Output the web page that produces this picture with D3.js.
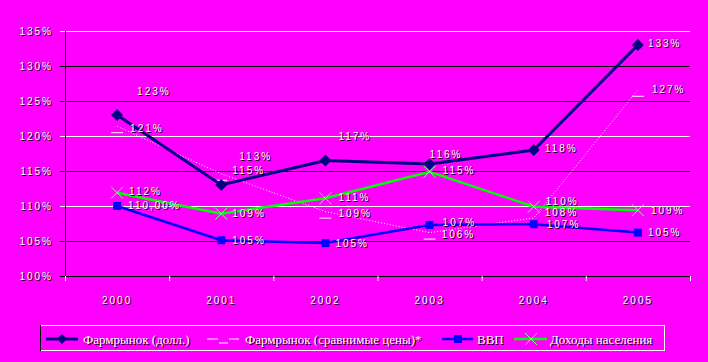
<!DOCTYPE html>
<html><head><meta charset="utf-8">
<script src="https://cdn.jsdelivr.net/npm/d3@7"></script>
<style>
html,body{margin:0;padding:0;background:#ff00ff;}
svg{display:block;}
.lbl{font-family:"Liberation Sans Narrow","Arial Narrow","Liberation Sans",sans-serif;font-size:10px;letter-spacing:2px;}
.leg{font-family:"Liberation Serif","Times New Roman",serif;font-size:13px;}
</style></head>
<body>
<script>
// ---- data ----
const years = ["2000","2001","2002","2003","2004","2005"];
const yTicks = [100,105,110,115,120,125,130,135];
const pharmUsd = [123, 113, 116.5, 116, 118, 133];
const pharmUsdLabels = ["123%","113%","117%","116%","118%","133%"];
const pharmConst = [121.4, 114.6, 109.2, 106.2, 108.3, 126.6];
const pharmConstLabels = ["121%","115%","109%","106%","108%","127%"];
const gdp = [110, 105.1, 104.7, 107.3, 107.4, 106.2];
const gdpLabels = ["110,00%","105%","105%","107%","107%","105%"];
const income = [111.9, 108.9, 111.1, 114.9, 109.9, 109.4];
const incomeLabels = ["112%","109%","111%","115%","110%","109%"];
const seriesNames = ["Фармрынок (долл.)","Фармрынок (сравнимые цены)*","ВВП","Доходы населения"];

// ---- drawing ----
const W = 708, H = 362;
const svg = d3.select("body").append("svg").attr("width", W).attr("height", H);
svg.append("rect").attr("width", W).attr("height", H).attr("fill", "#ff00ff");

const x = d3.scaleBand().domain(years).range([65, 690]).padding(0);
const y = d3.scaleLinear().domain([100, 135]).range([276, 31]);
const cx = d => x(d) + x.bandwidth() / 2;

// gridlines (colors as in the picture)
const gridColor = {100:"#000",105:"#000",110:"#fff",115:"#000",120:"#fff",125:"#000",130:"#000",135:"#fff"};
svg.append("g").selectAll("line").data(yTicks).join("line")
  .attr("x1", 60).attr("x2", 690)
  .attr("y1", d => y(d) + 0.5).attr("y2", d => y(d) + 0.5)
  .attr("stroke", d => gridColor[d]).attr("stroke-width", 1);

// axes
svg.append("line").attr("x1", 65.5).attr("x2", 65.5).attr("y1", 31).attr("y2", 281).attr("stroke", "#000");
const gx = svg.append("g").attr("transform", "translate(0,276)");
gx.selectAll("line.t").data(years.concat(["end"])).join("line").attr("class","t")
  .attr("x1", (d,i) => 65.5 + i * x.bandwidth()).attr("x2", (d,i) => 65.5 + i * x.bandwidth())
  .attr("y1", 0).attr("y2", 5).attr("stroke", "#fff");

function shadowText(g, tx, ty, str, cls, anchor) {
  g.append("text").attr("class", cls).attr("x", tx + 1).attr("y", ty + 1)
    .attr("text-anchor", anchor || "start").attr("dominant-baseline", "central").attr("fill", "#000").text(str);
  g.append("text").attr("class", cls).attr("x", tx).attr("y", ty)
    .attr("text-anchor", anchor || "start").attr("dominant-baseline", "central").attr("fill", "#fff").text(str);
}

const tg = svg.append("g");
yTicks.forEach(t => shadowText(tg, 53, y(t), t + "%", "lbl", "end"));
years.forEach(yr => shadowText(tg, cx(yr), 300, yr, "lbl", "middle"));

const line = d3.line().x((d, i) => cx(years[i])).y(d => y(d));

// Comparable prices (white dotted)
svg.append("path").datum(pharmConst).attr("d", line).attr("fill", "none")
  .attr("stroke", "#fff").attr("stroke-width", 1).attr("stroke-dasharray", "1,2");
svg.append("g").selectAll("line").data(pharmConst).join("line")
  .attr("x1", (d, i) => cx(years[i]) - 6).attr("x2", (d, i) => cx(years[i]) + 6)
  .attr("y1", d => y(d) + 6.5).attr("y2", d => y(d) + 6.5).attr("stroke", "#fff");

// GDP
svg.append("path").datum(gdp).attr("d", line).attr("fill", "none").attr("stroke", "#0000ff").attr("stroke-width", 2.5);
svg.append("g").selectAll("rect").data(gdp).join("rect")
  .attr("x", (d, i) => cx(years[i]) - 4).attr("y", d => y(d) - 4).attr("width", 8).attr("height", 8).attr("fill", "#0000ff");

// Income
svg.append("path").datum(income).attr("d", line).attr("fill", "none").attr("stroke", "#00ff00").attr("stroke-width", 2.5);
const xm = svg.append("g");
income.forEach((d, i) => {
  const px = cx(years[i]), py = y(d);
  xm.append("path").attr("d", `M${px-6},${py-6}L${px+6},${py+6}M${px-6},${py+6}L${px+6},${py-6}`)
    .attr("stroke", "#80ff80").attr("stroke-width", 1).attr("fill", "none");
});

// Pharm USD
svg.append("path").datum(pharmUsd).attr("d", line).attr("fill", "none").attr("stroke", "#000080").attr("stroke-width", 3);
svg.append("g").selectAll("path").data(pharmUsd).join("path")
  .attr("d", (d, i) => { const px = cx(years[i]), py = y(d); return `M${px},${py-6}L${px+6},${py}L${px},${py+6}L${px-6},${py}Z`; })
  .attr("fill", "#000080");

// data labels
const lg = svg.append("g");
const usdOff = [[20,-24],[18,-29],[13,-24],[0,-10],[11,-2],[10,-2]];
pharmUsd.forEach((d,i)=>shadowText(lg, cx(years[i]) + usdOff[i][0], y(d) + usdOff[i][1], pharmUsdLabels[i], "lbl"));
const constOff = [[13,2],[11,-3],[13,2],[12,2],[11,-5],[14,0]];
pharmConst.forEach((d,i)=>shadowText(lg, cx(years[i]) + constOff[i][0], y(d) + constOff[i][1], pharmConstLabels[i], "lbl"));
const gdpOff = [[11,-1],[11,0],[10,0],[13,-2.5],[13,0.5],[10,0]];
gdp.forEach((d,i)=>shadowText(lg, cx(years[i]) + gdpOff[i][0], y(d) + gdpOff[i][1], gdpLabels[i], "lbl"));
const incOff = [[12,-1],[11,0],[13,-1],[13,-1],[12,-5],[13,0]];
income.forEach((d,i)=>shadowText(lg, cx(years[i]) + incOff[i][0], y(d) + incOff[i][1], incomeLabels[i], "lbl"));

// legend
const L = svg.append("g");
L.append("rect").attr("x", 40.5).attr("y", 325.5).attr("width", 624).attr("height", 25).attr("fill", "none").attr("stroke", "#fff");
L.append("line").attr("x1", 40.5).attr("x2", 40.5).attr("y1", 325).attr("y2", 351).attr("stroke", "#000");
const ly = 339;
// item 1
L.append("line").attr("x1", 46).attr("x2", 78).attr("y1", ly).attr("y2", ly).attr("stroke", "#000080").attr("stroke-width", 3);
L.append("path").attr("d", `M62,${ly-5}L67,${ly}L62,${ly+5}L57,${ly}Z`).attr("fill", "#000080");
shadowText(L, 83, ly, seriesNames[0], "leg");
// item 2
L.append("path").attr("d", `M207,${ly}H218M219,${ly+4}H228M229,${ly}H239`).attr("stroke", "#fff").attr("fill", "none");
shadowText(L, 245, ly, seriesNames[1], "leg");
// item 3
L.append("line").attr("x1", 442).attr("x2", 473).attr("y1", ly).attr("y2", ly).attr("stroke", "#0000ff").attr("stroke-width", 2.5);
L.append("rect").attr("x", 454).attr("y", ly - 4).attr("width", 8).attr("height", 8).attr("fill", "#0000ff");
shadowText(L, 477, ly, seriesNames[2], "leg");
// item 4
L.append("line").attr("x1", 514).attr("x2", 547).attr("y1", ly).attr("y2", ly).attr("stroke", "#00ff00").attr("stroke-width", 2.5);
L.append("path").attr("d", `M525,${ly-6}L537,${ly+6}M525,${ly+6}L537,${ly-6}`).attr("stroke", "#80ff80").attr("fill", "none");
shadowText(L, 550, ly, seriesNames[3], "leg");
</script>
</body></html>
